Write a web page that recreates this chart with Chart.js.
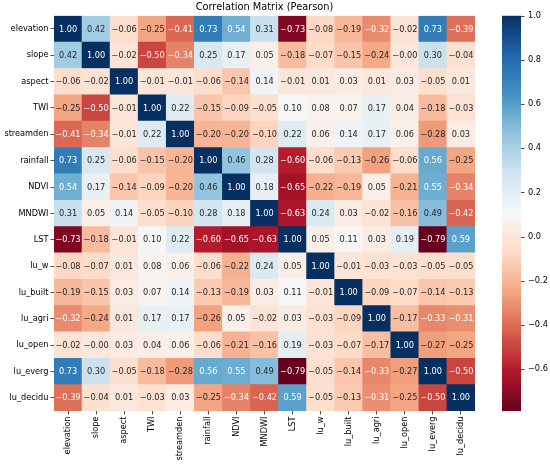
<!DOCTYPE html>
<html>
<head>
<meta charset="utf-8">
<script src="https://cdn.jsdelivr.net/npm/chart.js@4.4.1/dist/chart.umd.min.js"></script>
<style>
  html, body { margin: 0; padding: 0; background: #fff; }
  #wrap { width: 550px; height: 468px; }
</style>
</head>
<body>
<div id="wrap"><canvas id="heat" width="550" height="468"></canvas></div>
<script>
// variable names, same order for rows and columns
const variables = ['elevation', 'slope', 'aspect', 'TWI', 'streamden', 'rainfall', 'NDVI', 'MNDWI',
                   'LST', 'lu_w', 'lu_built', 'lu_agri', 'lu_open', 'lu_everg', 'lu_decidu'];

// correlation rows (Pearson)
const rowElevation = [1.00, 0.42, -0.06, -0.25, -0.41, 0.73, 0.54, 0.31, -0.73, -0.08, -0.19, -0.32, -0.02, 0.73, -0.39];
const rowSlope     = [0.42, 1.00, -0.02, -0.50, -0.34, 0.25, 0.17, 0.05, -0.18, -0.07, -0.15, -0.24, -0.00, 0.30, -0.04];
const rowAspect    = [-0.06, -0.02, 1.00, -0.01, -0.01, -0.06, -0.14, 0.14, -0.01, 0.01, 0.03, 0.01, 0.03, -0.05, 0.01];
const rowTWI       = [-0.25, -0.50, -0.01, 1.00, 0.22, -0.15, -0.09, -0.05, 0.10, 0.08, 0.07, 0.17, 0.04, -0.18, -0.03];
const rowStreamden = [-0.41, -0.34, -0.01, 0.22, 1.00, -0.20, -0.20, -0.10, 0.22, 0.06, 0.14, 0.17, 0.06, -0.28, 0.03];
const rowRainfall  = [0.73, 0.25, -0.06, -0.15, -0.20, 1.00, 0.46, 0.28, -0.60, -0.06, -0.13, -0.26, -0.06, 0.56, -0.25];
const rowNDVI      = [0.54, 0.17, -0.14, -0.09, -0.20, 0.46, 1.00, 0.18, -0.65, -0.22, -0.19, 0.05, -0.21, 0.55, -0.34];
const rowMNDWI     = [0.31, 0.05, 0.14, -0.05, -0.10, 0.28, 0.18, 1.00, -0.63, 0.24, 0.03, -0.02, -0.16, 0.49, -0.42];
const rowLST       = [-0.73, -0.18, -0.01, 0.10, 0.22, -0.60, -0.65, -0.63, 1.00, 0.05, 0.11, 0.03, 0.19, -0.79, 0.59];
const rowLuW       = [-0.08, -0.07, 0.01, 0.08, 0.06, -0.06, -0.22, 0.24, 0.05, 1.00, -0.01, -0.03, -0.03, -0.05, -0.05];
const rowLuBuilt   = [-0.19, -0.15, 0.03, 0.07, 0.14, -0.13, -0.19, 0.03, 0.11, -0.01, 1.00, -0.09, -0.07, -0.14, -0.13];
const rowLuAgri    = [-0.32, -0.24, 0.01, 0.17, 0.17, -0.26, 0.05, -0.02, 0.03, -0.03, -0.09, 1.00, -0.17, -0.33, -0.31];
const rowLuOpen    = [-0.02, -0.00, 0.03, 0.04, 0.06, -0.06, -0.21, -0.16, 0.19, -0.03, -0.07, -0.17, 1.00, -0.27, -0.25];
const rowLuEverg   = [0.73, 0.30, -0.05, -0.18, -0.28, 0.56, 0.55, 0.49, -0.79, -0.05, -0.14, -0.33, -0.27, 1.00, -0.50];
const rowLuDecidu  = [-0.39, -0.04, 0.01, -0.03, 0.03, -0.25, -0.34, -0.42, 0.59, -0.05, -0.13, -0.31, -0.25, -0.50, 1.00];

const corrRows = [rowElevation, rowSlope, rowAspect, rowTWI, rowStreamden, rowRainfall, rowNDVI, rowMNDWI,
                  rowLST, rowLuW, rowLuBuilt, rowLuAgri, rowLuOpen, rowLuEverg, rowLuDecidu];

const colorbarTicks = [-0.6, -0.4, -0.2, 0.0, 0.2, 0.4, 0.6, 0.8, 1.0];

// matplotlib RdBu stops
const RDBU = ['#67001f', '#b2182b', '#d6604d', '#f4a582', '#fddbc7', '#f7f7f7',
              '#d1e5f0', '#92c5de', '#4393c3', '#2166ac', '#053061'];

const FONT = 'DejaVu Sans';
const allVals = corrRows.flat();
const vmin = Math.min(...allVals);
const vmax = Math.max(...allVals);

function hexRgb(h) {
    return [1, 3, 5].map(i => parseInt(h.slice(i, i + 2), 16));
}

function rdbu(t) {
    t = Math.max(0, Math.min(1, t));
    const pos = t * (RDBU.length - 1);
    const i = Math.min(Math.floor(pos), RDBU.length - 2);
    const f = pos - i;
    const a = hexRgb(RDBU[i]), b = hexRgb(RDBU[i + 1]);
    return a.map((c, k) => Math.round(c + (b[k] - c) * f));
}

function cellRgb(v) {
    return rdbu((v - vmin) / (vmax - vmin));
}

function luminance(rgb) {
    const lin = rgb.map(c => {
        c = c / 255;
        return c <= 0.03928 ? c / 12.92 : Math.pow((c + 0.055) / 1.055, 2.4);
    });
    return 0.2126 * lin[0] + 0.7152 * lin[1] + 0.0722 * lin[2];
}

function fmt(v, d) {
    const neg = v < 0 || Object.is(v, -0);
    return (neg ? '\u2212' : '') + Math.abs(v).toFixed(d);
}

const cells = [];
corrRows.forEach((row, i) => {
    row.forEach((v, j) => cells.push({ x: variables[j], y: [i, i + 1], v: v }));
});

// numbers inside each cell
const cellLabels = {
    id: 'cellLabels',
    afterDatasetsDraw(chart) {
        const ctx = chart.ctx;
        const meta = chart.getDatasetMeta(0);
        ctx.save();
        ctx.font = `8.2px "${FONT}"`;
        ctx.textAlign = 'center';
        ctx.textBaseline = 'middle';
        meta.data.forEach((el, k) => {
            const raw = cells[k];
            const { x, y, base } = el.getProps(['x', 'y', 'base'], true);
            ctx.fillStyle = luminance(cellRgb(raw.v)) > 0.408 ? '#262626' : '#ffffff';
            ctx.fillText(fmt(raw.v, 2), x, (y + base) / 2 + 0.5);
        });
        ctx.restore();
    }
};

// gradient bar next to the heatmap, positioned from the cbar scale
const colorbar = {
    id: 'colorbar',
    afterLayout(chart) {
        // centre the title over the heatmap like matplotlib does
        if (chart.titleBlock) {
            chart.titleBlock.left = chart.chartArea.left;
            chart.titleBlock.right = chart.chartArea.right;
        }
    },
    afterDraw(chart) {
        const s = chart.scales.cbar;
        const ctx = chart.ctx;
        const x0 = s.left + 27, w = 19;
        const top = s.getPixelForValue(vmax), bottom = s.getPixelForValue(vmin);
        const g = ctx.createLinearGradient(0, bottom, 0, top);
        RDBU.forEach((c, i) => g.addColorStop(i / (RDBU.length - 1), c));
        ctx.save();
        ctx.fillStyle = g;
        ctx.fillRect(x0, top, w, bottom - top);
        ctx.strokeStyle = '#222';
        ctx.lineWidth = 0.8;
        colorbarTicks.forEach(v => {
            const yy = Math.round(s.getPixelForValue(v)) + 0.5;
            ctx.beginPath();
            ctx.moveTo(x0 + w, yy);
            ctx.lineTo(x0 + w + 3.5, yy);
            ctx.stroke();
        });
        ctx.restore();
    }
};

const tickFont = { family: FONT, size: 8.2 };

new Chart(document.getElementById('heat').getContext('2d'), {
    type: 'bar',
    data: {
        labels: variables,
        datasets: [{
            data: cells,
            xAxisID: 'x',
            yAxisID: 'y',
            grouped: false,
            barPercentage: 1,
            categoryPercentage: 1,
            borderWidth: 0,
            backgroundColor: c => {
                const rgb = cellRgb(cells[c.dataIndex].v);
                return `rgb(${rgb[0]},${rgb[1]},${rgb[2]})`;
            }
        }]
    },
    options: {
        responsive: false,
        animation: false,
        layout: { padding: 0 },
        plugins: {
            legend: { display: false },
            tooltip: { enabled: false },
            title: {
                display: true,
                text: 'Correlation Matrix (Pearson)',
                color: '#000',
                font: { family: FONT, size: 9.8, weight: 'normal' },
                padding: { top: 2, bottom: 2 }
            }
        },
        scales: {
            x: {
                type: 'category',
                offset: true,
                border: { display: false },
                grid: { display: true, drawOnChartArea: false, offset: false, tickLength: 3.5, color: '#222', lineWidth: 0.8 },
                ticks: { minRotation: 90, maxRotation: 90, autoSkip: false, padding: 2, color: '#000', font: tickFont },
                afterFit: s => { s.height = 57; }
            },
            y: {
                type: 'linear',
                reverse: true,
                min: 0,
                max: variables.length,
                border: { display: false },
                grid: { display: true, drawOnChartArea: false, tickLength: 3.5, color: '#222', lineWidth: 0.8 },
                afterBuildTicks: s => { s.ticks = variables.map((_, i) => ({ value: i + 0.5 })); },
                ticks: { autoSkip: false, padding: 2, color: '#000', font: tickFont,
                         callback: v => variables[Math.floor(v)] },
                afterFit: s => { s.width = 54; }
            },
            cbar: {
                type: 'linear',
                position: 'right',
                min: vmin,
                max: vmax,
                border: { display: false },
                // invisible long tick marks push the labels past the gradient bar
                grid: { display: true, drawOnChartArea: false, drawTicks: true, tickLength: 51, color: 'rgba(0,0,0,0)' },
                afterBuildTicks: s => { s.ticks = colorbarTicks.map(v => ({ value: v })); },
                ticks: { autoSkip: false, padding: 2, color: '#000', font: tickFont,
                         callback: v => fmt(v, 1) },
                afterFit: s => { s.width = 75; }
            }
        }
    },
    plugins: [cellLabels, colorbar]
});
</script>
</body>
</html>
